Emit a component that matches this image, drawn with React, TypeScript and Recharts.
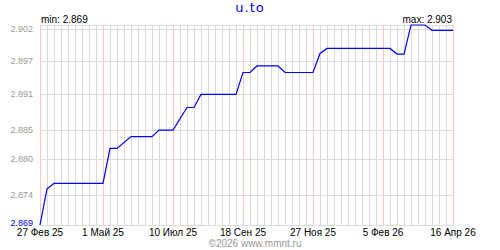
import React from 'react';
import { LineChart, Line, XAxis, YAxis, CartesianGrid, ReferenceLine } from 'recharts';

// Days since 27 Feb 2025 and rate values at change points
const days = [0, 7, 14, 63, 70, 77, 91, 112, 119, 133, 147, 154, 161, 196, 203, 210, 217, 238, 245, 273, 280, 287, 350, 357, 364, 371, 385, 392, 413];
const values = [2.869, 2.8751, 2.876, 2.876, 2.8819, 2.8819, 2.8839, 2.8839, 2.885, 2.885, 2.8888, 2.8888, 2.891, 2.891, 2.8947, 2.8947, 2.8958, 2.8958, 2.8947, 2.8947, 2.8979, 2.89875, 2.89875, 2.8978, 2.8978, 2.9027, 2.9027, 2.9018, 2.9018];

// X axis labels
const labelDays = [0, 63, 133, 203, 273, 343, 413];
const labelTexts = ['27 Фев 25', '1 Май 25', '10 Июл 25', '18 Сен 25', '27 Ноя 25', '5 Фев 26', '16 Апр 26'];

// Y axis ticks
const yTicks = [2.869, 2.874, 2.88, 2.885, 2.891, 2.8966, 2.902];
const yTickLabels = ['2.869', '2.874', '2.880', '2.885', '2.891', '2.897', '2.902'];

const weekDays = Array.from({ length: 60 }, (_, i) => i * 7);

const data = days.map((d, i) => ({ day: d, v: values[i] }));

const BLUE = '#0000ff';
const GRAY_TEXT = '#999999';
const FONT = '"Liberation Sans", Arial, sans-serif';

const minV = Math.min(...values);
const maxV = Math.max(...values);
const firstV = values[0];
const lastV = values[values.length - 1];

const labelFor = (v: number) => {
  const i = yTicks.indexOf(v);
  return i >= 0 ? yTickLabels[i] : v.toFixed(3);
};

const LeftTick = (p: any) => {
  const lbl = labelFor(p.payload.value);
  const blue = lbl === firstV.toFixed(3);
  const shift = p.index === 0 ? 1.8 : 0.5;
  return (
    <text x={p.x} y={p.y - shift} textAnchor="end" dominantBaseline="central" fontSize={9} fontFamily={FONT} fill={blue ? BLUE : GRAY_TEXT}>
      {lbl}
    </text>
  );
};

const RightTick = (p: any) => {
  const lbl = labelFor(p.payload.value);
  const blue = lbl === lastV.toFixed(3);
  const shift = p.index === 0 ? 1.8 : 0.5;
  return (
    <text x={p.x} y={p.y - shift} textAnchor="start" dominantBaseline="central" fontSize={9} fontFamily={FONT} fill={blue ? BLUE : GRAY_TEXT}>
      {lbl}
    </text>
  );
};

const XTick = (p: any) => {
  const i = labelDays.indexOf(p.payload.value);
  return (
    <text x={p.x} y={p.y} dy={8.3} textAnchor="middle" fontSize={10} fontFamily={FONT} fill="#000">
      {i >= 0 ? labelTexts[i] : ''}
    </text>
  );
};

export default function App() {
  return (
    <div style={{ position: 'relative', width: 500, height: 250, background: '#fff' }}>
      <style>{`body{margin:0;}`}</style>
      <LineChart width={500} height={250} data={data} margin={{ top: 25, right: 0, bottom: 0, left: 0 }}>
        <CartesianGrid yAxisId="left" vertical={false} stroke="#dcdcdc" strokeWidth={1} shapeRendering="crispEdges" />
        <XAxis
          dataKey="day"
          type="number"
          domain={[0, 413]}
          ticks={labelDays}
          tick={<XTick />}
          tickLine={false}
          axisLine={false}
          tickSize={0}
          tickMargin={3}
          height={25}
          interval={0}
        />
        <YAxis
          yAxisId="left"
          orientation="left"
          type="number"
          domain={[minV, maxV]}
          ticks={yTicks}
          tick={<LeftTick />}
          tickLine={false}
          axisLine={false}
          tickSize={0}
          tickMargin={7}
          width={40}
          interval={0}
        />
        <YAxis
          yAxisId="right"
          orientation="right"
          type="number"
          domain={[minV, maxV]}
          ticks={yTicks}
          tick={<RightTick />}
          tickLine={false}
          axisLine={false}
          tickSize={0}
          tickMargin={8}
          width={47}
          interval={0}
        />
        {weekDays.map((d) => (
          <ReferenceLine key={'w' + d} yAxisId="left" x={d} stroke="#d9d9d9" strokeWidth={1} shapeRendering="crispEdges" />
        ))}
        {labelDays.map((d) => (
          <ReferenceLine key={'p' + d} yAxisId="left" x={d} stroke="#ffc4c4" strokeWidth={1} shapeRendering="crispEdges" />
        ))}
        <Line
          yAxisId="left"
          type="linear"
          dataKey="v"
          stroke={BLUE}
          strokeWidth={1.2}
          dot={false}
          isAnimationActive={false}
        />
      </LineChart>
      <svg width={500} height={250} style={{ position: 'absolute', left: 0, top: 0, pointerEvents: 'none' }}>
        <text x={250} y={12} textAnchor="middle" fontSize={13} letterSpacing={1} fontFamily='"DejaVu Sans", sans-serif' fill={BLUE}>
          u.to
        </text>
        <text x={41} y={22.5} textAnchor="start" fontSize={10} fontFamily={FONT} fill="#000">
          {'min: ' + minV.toFixed(3)}
        </text>
        <text x={452} y={22.5} textAnchor="end" fontSize={10} fontFamily={FONT} fill="#000">
          {'max: ' + maxV.toFixed(3)}
        </text>
        <text x={255} y={246.5} textAnchor="middle" fontSize={10} fontFamily={FONT} fill={GRAY_TEXT}>
          ©2026 www.mmnt.ru
        </text>
      </svg>
    </div>
  );
}
